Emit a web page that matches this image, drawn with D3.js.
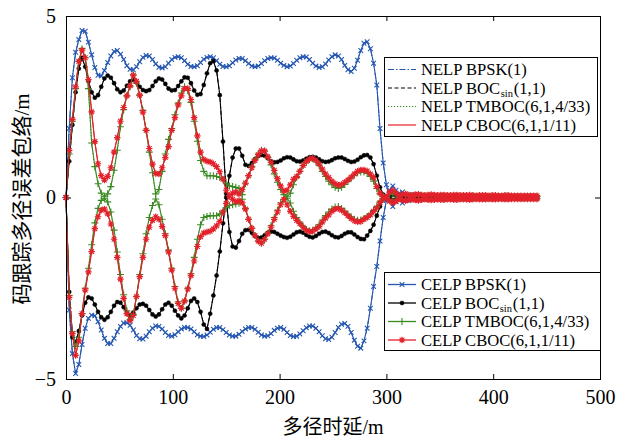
<!DOCTYPE html>
<html>
<head>
<meta charset="utf-8">
<script src="https://cdn.jsdelivr.net/npm/d3@7"></script>
<style>
  body { margin: 0; background: #fff; }
  svg { display: block; }
</style>
</head>
<body>
<svg id="chart" width="629" height="441"></svg>
<script>
// Multipath delay grid (m)
const delayStep = 3;
const delays = d3.range(0, 442, delayStep);

// Error envelopes (m): upper / lower branch for each signal
const bpskUpper = [
  0,1.9,3.3,4.0,4.35,4.6,4.58,4.28,3.93,3.58,
  3.37,3.35,3.5,3.72,3.9,4.02,4.05,3.95,3.8,3.63,
  3.53,3.52,3.6,3.74,3.86,3.91,3.9,3.8,3.68,3.59,
  3.57,3.6,3.7,3.8,3.86,3.88,3.85,3.77,3.67,3.61,
  3.6,3.63,3.72,3.81,3.86,3.88,3.85,3.77,3.67,3.61,
  3.6,3.63,3.71,3.79,3.83,3.83,3.77,3.69,3.62,3.6,
  3.62,3.69,3.77,3.83,3.85,3.84,3.78,3.7,3.64,3.6,
  3.62,3.69,3.78,3.85,3.88,3.87,3.8,3.7,3.62,3.58,
  3.6,3.68,3.79,3.88,3.93,3.9,3.8,3.64,3.52,3.47,
  3.56,3.78,4.05,4.25,4.29,4.1,3.7,3.1,1.9,0.95,
  0.35,
  -0.05,-0.25,-0.12,0.12,0.15,0.03,-0.08,-0.06,0.04,0.07,
  0.01,-0.05,-0.04,0.03,0.05,0,-0.04,-0.03,0.02,0.04,
  0.01,-0.03,-0.03,0.02,0.03,0,-0.03,-0.02,0.02,0.03,
  0,-0.02,-0.02,0.02,0.02,0,-0.02,-0.02,0.01,0.02,
  0,-0.02,-0.01,0.01,0.02,0,-0.01
];
const bpskLower = [
  0,-3.1,-4.3,-4.85,-4.6,-4.05,-3.6,-3.33,-3.24,-3.26,
  -3.42,-3.65,-3.88,-4.02,-4.02,-3.88,-3.7,-3.55,-3.46,-3.45,
  -3.52,-3.65,-3.8,-3.89,-3.9,-3.82,-3.7,-3.6,-3.54,-3.55,
  -3.62,-3.72,-3.8,-3.82,-3.78,-3.7,-3.62,-3.58,-3.58,-3.62,
  -3.7,-3.78,-3.82,-3.83,-3.79,-3.71,-3.63,-3.58,-3.58,-3.64,
  -3.72,-3.79,-3.82,-3.82,-3.77,-3.69,-3.62,-3.58,-3.58,-3.63,
  -3.71,-3.79,-3.82,-3.81,-3.75,-3.66,-3.6,-3.58,-3.63,-3.72,
  -3.8,-3.83,-3.82,-3.76,-3.67,-3.59,-3.54,-3.54,-3.6,-3.7,
  -3.81,-3.89,-3.91,-3.85,-3.72,-3.58,-3.49,-3.47,-3.55,-3.72,
  -3.93,-4.1,-4.15,-3.95,-3.6,-3.05,-2.45,-1.9,-1.2,-0.55,
  -0.08,
  0.2,0.32,0.2,-0.05,-0.15,-0.08,0.05,0.08,0,-0.06,
  -0.04,0.03,0.04,0,-0.03,-0.03,0.02,0.03,0,-0.03,
  -0.02,0.02,0.03,0,-0.02,-0.02,0.02,0.02,0,-0.02,
  -0.02,0.01,0.02,0,-0.02,-0.01,0.01,0.02,0,-0.01,
  -0.01,0.01,0.01,0,-0.01,-0.01,0.01
];
const bocUpper = [
  0,1.0,2.0,2.9,3.55,3.85,3.6,3.2,2.9,2.75,
  2.82,3.05,3.28,3.36,3.3,3.15,2.98,2.9,2.95,3.08,
  3.2,3.24,3.17,3.05,2.96,2.93,2.96,3.07,3.2,3.28,
  3.25,3.13,3.0,2.95,2.96,3.07,3.2,3.31,3.3,3.15,
  2.95,2.83,2.85,3.1,3.42,3.7,3.76,3.5,2.82,1.54,
  0.1,0.6,1.1,1.35,1.35,1.15,0.9,0.87,0.95,1.06,
  1.14,1.17,1.15,1.08,1.0,0.97,0.98,1.02,1.08,1.11,
  1.1,1.05,1.0,0.99,1.02,1.07,1.11,1.12,1.1,1.05,
  1.0,0.98,0.99,1.03,1.08,1.1,1.1,1.06,1.01,0.98,
  0.99,1.04,1.11,1.16,1.17,1.1,0.92,0.6,0.28,0.08,
  0.02,
  0.05,0.08,0.06,0.03,0.04,0.06,0.05,0.03,0.04,0.05,
  0.04,0.03,0.04,0.05,0.04,0.03,0.03,0.04,0.04,0.03,
  0.03,0.04,0.03,0.03,0.03,0.04,0.03,0.02,0.03,0.03,
  0.03,0.02,0.03,0.03,0.02,0.02,0.03,0.03,0.02,0.02,
  0.03,0.02,0.02,0.02,0.02,0.02,0.02
];
const bocLower = [
  0,-2.6,-3.85,-3.98,-3.68,-3.25,-2.9,-2.75,-2.78,-2.95,
  -3.15,-3.3,-3.37,-3.3,-3.15,-2.98,-2.88,-2.9,-3.02,-3.18,
  -3.24,-3.17,-3.05,-2.95,-2.93,-2.98,-3.1,-3.22,-3.28,-3.22,
  -3.08,-2.95,-2.9,-2.98,-3.12,-3.25,-3.33,-3.25,-3.05,-2.85,
  -2.78,-2.88,-3.15,-3.5,-3.62,-3.2,-2.7,-2.15,-1.49,-0.71,
  0,-0.95,-1.35,-1.38,-1.2,-1.0,-0.9,-0.89,-0.97,-1.06,
  -1.12,-1.1,-1.04,-0.97,-0.94,-0.95,-1.0,-1.05,-1.09,-1.11,
  -1.08,-1.02,-0.96,-0.94,-0.97,-1.03,-1.08,-1.1,-1.06,-1.0,
  -0.95,-0.94,-0.98,-1.04,-1.09,-1.1,-1.06,-1.0,-0.96,-0.96,
  -1.02,-1.09,-1.14,-1.15,-1.05,-0.92,-0.75,-0.5,-0.25,-0.05,
  0,
  -0.04,-0.07,-0.05,-0.03,-0.04,-0.05,-0.04,-0.03,-0.04,-0.04,
  -0.03,-0.03,-0.04,-0.04,-0.03,-0.03,-0.03,-0.04,-0.03,-0.03,
  -0.03,-0.03,-0.03,-0.02,-0.03,-0.03,-0.02,-0.02,-0.03,-0.03,
  -0.02,-0.02,-0.02,-0.03,-0.02,-0.02,-0.02,-0.02,-0.02,-0.02,
  -0.02,-0.02,-0.02,-0.02,-0.02,-0.01,-0.01
];
const tmbocUpper = [
  0,1.2,2.1,3.0,3.75,4.1,3.85,3.0,1.5,0.85,
  0.38,0.12,0.02,0.1,0.3,0.75,1.3,1.95,2.42,2.8,
  3.05,3.38,3.15,2.82,2.4,1.85,1.25,0.68,0.1,0.22,
  0.72,1.2,1.6,1.9,2.28,2.6,2.88,3.05,2.95,2.62,
  2.1,1.55,1.02,0.72,0.6,0.6,0.6,0.58,0.55,0.5,
  0.38,0.32,0.3,0.28,0.25,0.08,0.38,0.6,0.85,1.05,
  1.2,1.3,1.28,1.1,0.9,0.65,0.42,0.22,0.08,0.02,
  0.12,0.35,0.55,0.72,0.88,0.98,1.05,1.07,1.0,0.88,
  0.72,0.58,0.45,0.35,0.28,0.25,0.28,0.36,0.45,0.54,
  0.62,0.68,0.7,0.7,0.66,0.58,0.45,0.25,0.1,0.02,
  0,
  0.08,0.12,0.08,0.04,0.06,0.07,0.05,0.04,0.05,0.06,
  0.05,0.04,0.05,0.05,0.04,0.04,0.05,0.05,0.04,0.04,
  0.04,0.05,0.04,0.04,0.04,0.04,0.04,0.03,0.04,0.04,
  0.04,0.03,0.04,0.04,0.03,0.03,0.04,0.04,0.03,0.03,
  0.03,0.03,0.03,0.03,0.03,0.03,0.03
];
const tmbocLower = [
  0,-2.7,-3.7,-4.1,-3.85,-3.2,-2.5,-1.95,-1.3,-0.7,
  -0.3,-0.08,-0.02,-0.12,-0.4,-0.9,-1.5,-2.12,-2.68,-3.12,
  -3.36,-3.22,-2.72,-2.12,-1.55,-1.0,-0.55,-0.22,-0.04,-0.2,
  -0.6,-1.0,-1.45,-1.95,-2.45,-2.88,-3.05,-2.85,-2.5,-2.1,
  -1.65,-1.15,-0.75,-0.55,-0.52,-0.5,-0.5,-0.5,-0.45,-0.38,
  -0.28,-0.22,-0.2,-0.18,-0.16,-0.05,-0.3,-0.6,-0.85,-1.05,
  -1.2,-1.25,-1.15,-0.98,-0.78,-0.55,-0.35,-0.15,-0.05,-0.02,
  -0.15,-0.38,-0.55,-0.68,-0.8,-0.88,-0.92,-0.9,-0.84,-0.75,
  -0.62,-0.5,-0.4,-0.32,-0.26,-0.25,-0.3,-0.38,-0.46,-0.54,
  -0.6,-0.63,-0.62,-0.58,-0.52,-0.45,-0.36,-0.25,-0.12,-0.03,
  0,
  -0.06,-0.1,-0.07,-0.03,-0.05,-0.06,-0.04,-0.03,-0.04,-0.05,
  -0.04,-0.03,-0.04,-0.04,-0.03,-0.03,-0.04,-0.04,-0.03,-0.03,
  -0.03,-0.04,-0.03,-0.03,-0.03,-0.03,-0.03,-0.02,-0.03,-0.03,
  -0.03,-0.02,-0.03,-0.03,-0.02,-0.02,-0.03,-0.03,-0.02,-0.02,
  -0.02,-0.02,-0.02,-0.02,-0.02,-0.02,-0.02
];
const cbocUpper = [
  0,1.3,2.15,3.05,3.75,4.06,3.85,3.25,2.36,1.54,
  0.93,0.6,0.48,0.58,0.82,1.25,1.65,2.1,2.48,2.8,
  3.08,3.37,3.2,2.82,2.35,1.85,1.35,0.92,0.66,0.65,
  0.82,1.1,1.4,1.85,2.2,2.55,2.8,3.0,3.0,2.7,
  2.2,1.7,1.25,1.05,1.0,0.98,0.93,0.85,0.71,0.5,
  0.2,0.05,0.12,0.15,0.1,0.22,0.4,0.6,0.82,1.02,
  1.18,1.29,1.28,1.12,0.97,0.75,0.52,0.32,0.18,0.2,
  0.35,0.5,0.58,0.72,0.88,0.99,1.06,1.08,1.02,0.92,
  0.78,0.65,0.55,0.45,0.38,0.34,0.36,0.42,0.48,0.56,
  0.65,0.72,0.76,0.76,0.73,0.65,0.55,0.3,0.12,0.03,
  0.02,
  0.15,0.2,0.12,0.05,0.08,0.1,0.07,0.06,0.08,0.09,
  0.07,0.06,0.07,0.08,0.07,0.06,0.07,0.07,0.06,0.06,
  0.07,0.07,0.06,0.06,0.06,0.07,0.06,0.05,0.06,0.06,
  0.06,0.05,0.06,0.06,0.05,0.05,0.06,0.06,0.05,0.05,
  0.05,0.05,0.05,0.05,0.05,0.05,0.05
];
const cbocLower = [
  0,-2.75,-3.75,-4.35,-3.95,-3.2,-2.55,-2.05,-1.49,-0.86,
  -0.53,-0.35,-0.32,-0.45,-0.73,-1.15,-1.65,-2.25,-2.78,-3.2,
  -3.39,-3.25,-2.73,-2.18,-1.65,-1.15,-0.82,-0.63,-0.53,-0.6,
  -0.8,-1.05,-1.5,-2.0,-2.5,-2.92,-3.05,-2.85,-2.52,-2.15,
  -1.75,-1.35,-1.08,-0.98,-0.95,-0.93,-0.87,-0.78,-0.66,-0.4,
  -0.16,0.05,-0.05,-0.12,-0.08,-0.15,-0.32,-0.6,-0.85,-1.05,
  -1.2,-1.26,-1.15,-1.0,-0.82,-0.6,-0.4,-0.2,-0.05,-0.2,
  -0.38,-0.52,-0.63,-0.72,-0.82,-0.9,-0.94,-0.93,-0.87,-0.8,
  -0.68,-0.57,-0.48,-0.38,-0.32,-0.3,-0.35,-0.42,-0.5,-0.58,
  -0.64,-0.67,-0.66,-0.6,-0.55,-0.48,-0.38,-0.28,-0.14,-0.04,
  -0.01,
  -0.1,-0.15,-0.1,-0.04,-0.07,-0.09,-0.06,-0.05,-0.07,-0.08,
  -0.06,-0.05,-0.06,-0.07,-0.06,-0.05,-0.06,-0.06,-0.05,-0.05,
  -0.06,-0.06,-0.05,-0.05,-0.05,-0.06,-0.05,-0.04,-0.05,-0.05,
  -0.05,-0.04,-0.05,-0.05,-0.04,-0.04,-0.05,-0.05,-0.04,-0.04,
  -0.04,-0.04,-0.04,-0.04,-0.04,-0.04,-0.04
];

// Signal names and axis ticks
const signalNames = ["BPSK(1)", "BOC|sin|(1,1)", "TMBOC(6,1,4/33)", "CBOC(6,1,1/11)"];
const xTicks = [0, 100, 200, 300, 400, 500];
const yTicks = [-5, 0, 5];
const xTitle = "多径时延/m";
const yTitle = "码跟踪多径误差包络/m";

// ---- drawing ----
const svg = d3.select("#chart");
const plot = { left: 66, right: 600, top: 16, bottom: 379 };
const serif = "'Liberation Serif','Times New Roman','Noto Sans CJK SC',serif";

const x = d3.scaleLinear().domain([0, 500]).range([plot.left, plot.right]);
const y = d3.scaleLinear().domain([-5, 5]).range([plot.bottom, plot.top]);

// marker glyphs
const glyphX = { draw(c, s) { const r = Math.sqrt(s) / 2; c.moveTo(-r, -r); c.lineTo(r, r); c.moveTo(-r, r); c.lineTo(r, -r); } };
const glyphPlus = { draw(c, s) { const r = Math.sqrt(s) / 2; c.moveTo(-r, 0); c.lineTo(r, 0); c.moveTo(0, -r); c.lineTo(0, r); } };
const glyphStar = { draw(c, s) { const r = Math.sqrt(s) / 2, q = r * 0.72;
  c.moveTo(-r, 0); c.lineTo(r, 0); c.moveTo(0, -r); c.lineTo(0, r);
  c.moveTo(-q, -q); c.lineTo(q, q); c.moveTo(-q, q); c.lineTo(q, -q); } };

const styles = [
  { color: "#2456b0", glyph: glyphX, size: 22, fill: false, sw: 1.1, nelpDash: "6,2,1.5,2" },
  { color: "#000000", glyph: d3.symbolCircle, size: 13, fill: true, sw: 1, nelpDash: "4,2.5" },
  { color: "#3a8a22", glyph: glyphPlus, size: 49, fill: false, sw: 1.1, nelpDash: "1.2,1.8" },
  { color: "#e3212b", glyph: glyphStar, size: 42, fill: false, sw: 1.2, nelpDash: null }
];
const series = [
  [bpskUpper, bpskLower], [bocUpper, bocLower], [tmbocUpper, tmbocLower], [cbocUpper, cbocLower]
];

const line = d3.line()
  .x(d => x(d[0]))
  .y(d => y(d[1]));

function pairs(arr) {
  const n = Math.min(arr.length, delays.length);
  return d3.range(n).map(i => [delays[i], arr[i]]);
}

// axes: ticks on all four sides pointing inward
const axG = svg.append("g");
axG.append("g").attr("transform", `translate(0,${plot.bottom})`)
  .call(d3.axisBottom(x).tickValues(xTicks).tickSizeInner(-5).tickSizeOuter(0).tickPadding(11).tickFormat(d3.format("d")));
axG.append("g").attr("transform", `translate(0,${plot.top})`)
  .call(d3.axisTop(x).tickValues(xTicks).tickSizeInner(-5).tickSizeOuter(0).tickFormat(""));
axG.append("g").attr("transform", `translate(${plot.left},0)`)
  .call(d3.axisLeft(y).tickValues(yTicks).tickSizeInner(-5).tickSizeOuter(0).tickPadding(10)
    .tickFormat(d => d < 0 ? "\u2212" + Math.abs(d) : String(d)));
axG.append("g").attr("transform", `translate(${plot.right},0)`)
  .call(d3.axisRight(y).tickValues(yTicks).tickSizeInner(-5).tickSizeOuter(0).tickFormat(""));
axG.selectAll(".domain").remove();
axG.selectAll(".tick line").attr("stroke", "#000").attr("stroke-width", 1);
axG.selectAll(".tick text").attr("font-family", serif).attr("font-size", 20).attr("fill", "#000");

// NELP curves (drawn underneath)
const nelpG = svg.append("g");
series.forEach((pair, si) => {
  const st = styles[si];
  pair.forEach(arr => {
    nelpG.append("path").attr("d", line(pairs(arr)))
      .attr("fill", "none").attr("stroke", st.color).attr("stroke-width", 1)
      .attr("stroke-dasharray", st.nelpDash);
  });
});

// CELP curves with markers
const celpG = svg.append("g");
series.forEach((pair, si) => {
  const st = styles[si];
  const g = celpG.append("g");
  pair.forEach(arr => {
    const pts = pairs(arr);
    g.append("path").attr("d", line(pts))
      .attr("fill", "none").attr("stroke", st.color).attr("stroke-width", 1.1);
    const sym = d3.symbol().type(st.glyph).size(st.size);
    g.selectAll(null).data(pts).enter().append("path")
      .attr("transform", d => `translate(${x(d[0])},${y(d[1])})`)
      .attr("d", sym())
      .attr("fill", st.fill ? st.color : "none")
      .attr("stroke", st.color)
      .attr("stroke-width", st.fill ? 0.5 : st.sw);
  });
});

// frame
svg.append("rect")
  .attr("x", plot.left + 0.5).attr("y", plot.top + 0.5)
  .attr("width", plot.right - plot.left).attr("height", plot.bottom - plot.top)
  .attr("fill", "none").attr("stroke", "#000").attr("stroke-width", 1);

// legends; a subscripted name is laid out as three adjacent text runs
function legend(prefix, box, withMarkers) {
  const g = svg.append("g");
  g.append("rect").attr("x", box.x + 0.5).attr("y", box.y + 0.5)
    .attr("width", box.w).attr("height", box.h)
    .attr("fill", "#fff").attr("stroke", "#000").attr("stroke-width", 1);
  signalNames.forEach((name, i) => {
    const st = styles[i];
    const cy = box.y + 12.5 + i * 18.5;
    g.append("line").attr("x1", box.x + 4).attr("x2", box.x + 32)
      .attr("y1", cy).attr("y2", cy)
      .attr("stroke", st.color).attr("stroke-width", withMarkers ? 1.3 : 1.2)
      .attr("stroke-dasharray", withMarkers ? null : st.nelpDash);
    if (withMarkers) {
      g.append("path").attr("transform", `translate(${box.x + 18},${cy})`)
        .attr("d", d3.symbol().type(st.glyph).size(st.size)())
        .attr("fill", st.fill ? st.color : "none").attr("stroke", st.color)
        .attr("stroke-width", st.fill ? 0.5 : st.sw);
    }
    const parts = name.split("|");
    let tx = box.x + 37;
    const main = g.append("text").attr("x", tx).attr("y", cy + 5.5)
      .attr("font-family", serif).attr("font-size", 16.6).attr("fill", "#000")
      .text(prefix + " " + parts[0]);
    if (parts.length > 1) {
      tx += main.node().getComputedTextLength() + 0.5;
      const sub = g.append("text").attr("x", tx).attr("y", cy + 9)
        .attr("font-family", serif).attr("font-size", 10.5).attr("fill", "#000")
        .text(parts[1]);
      tx += sub.node().getComputedTextLength() + 0.8;
      g.append("text").attr("x", tx).attr("y", cy + 5.5)
        .attr("font-family", serif).attr("font-size", 16.6).attr("fill", "#000")
        .text(parts[2]);
    }
  });
}
legend("NELP", { x: 384, y: 57, w: 213, h: 79 }, false);
legend("CELP", { x: 384, y: 272, w: 216, h: 78 }, true);

// axis titles
svg.append("text").attr("x", (plot.left + plot.right) / 2).attr("y", 434)
  .attr("text-anchor", "middle").attr("font-family", serif).attr("font-size", 20)
  .attr("fill", "#000").text(xTitle);
svg.append("text").attr("transform", `translate(29,199) rotate(-90)`)
  .attr("text-anchor", "middle").attr("font-family", serif).attr("font-size", 21)
  .attr("fill", "#000").text(yTitle);
</script>
</body>
</html>
